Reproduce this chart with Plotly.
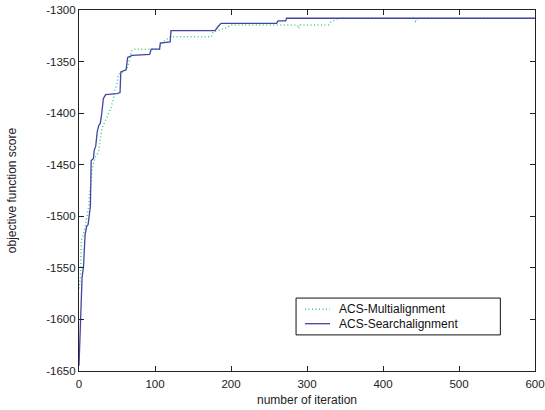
import plotly.graph_objects as go

# Best-so-far objective score per iteration for the two alignment methods
multi_iter = [0, 2, 3, 5, 8, 11, 13, 14, 16, 17, 21, 24, 26, 28, 30, 33, 36, 38, 42, 45,
              47, 50, 52, 58, 63, 66, 69, 72, 106, 108, 114, 120, 174, 177, 185, 195, 200,
              287, 289, 291, 328, 331, 336, 341, 441, 443, 446, 600]
multi_score = [-1570, -1558, -1523, -1520, -1510, -1500, -1490, -1478, -1467, -1455, -1443,
               -1440, -1437, -1425, -1415, -1410, -1405, -1400, -1395, -1387, -1378, -1372,
               -1362, -1360, -1357, -1350, -1340, -1338, -1338, -1332, -1329, -1326, -1326,
               -1321, -1319.5, -1317, -1314.5, -1314.5, -1318, -1314.5, -1314.5, -1312,
               -1310, -1308, -1308, -1311, -1308, -1308]

search_iter = [0, 2, 4, 6, 7, 8, 10, 12, 15, 16, 19, 20, 22, 24, 26, 28, 30, 32, 35, 50, 54,
               55, 62, 64, 70, 93, 95, 106, 107, 120, 121, 179, 183, 187, 260, 262, 272, 273,
               600]
search_score = [-1645, -1600, -1560, -1548, -1535, -1518, -1510, -1508, -1490, -1446, -1444,
                -1436, -1432, -1418, -1412, -1410, -1400, -1386, -1382, -1381, -1380, -1360,
                -1358, -1346, -1344, -1343, -1338, -1338, -1332, -1331, -1320, -1320, -1316,
                -1313, -1313, -1310.5, -1310.5, -1308, -1308]

series_names = ["ACS-Multialignment", "ACS-Searchalignment"]

x_ticks = [0, 100, 200, 300, 400, 500, 600]
y_ticks = [-1650, -1600, -1550, -1500, -1450, -1400, -1350, -1300]
y_tick_text = ["-1650", "-1600", "-1550", "-1500", "-1450", "-1400", "-1350", "-1300"]

MULTI_LINE = dict(color="#3fc98c", width=1.5, dash="1px,2.5px")
SEARCH_LINE = dict(color="#4444a6", width=1.3)

fig = go.Figure()
fig.add_trace(go.Scatter(x=multi_iter, y=multi_score, mode="lines",
                         name=series_names[0], line=MULTI_LINE))
fig.add_trace(go.Scatter(x=search_iter, y=search_score, mode="lines",
                         name=series_names[1], line=SEARCH_LINE))

font = dict(family="Liberation Sans, Arial, sans-serif", size=12, color="#222222")
tick_font = dict(family=font["family"], size=11.5, color="#222222")

axis_common = dict(
    showline=True, linecolor="#222222", linewidth=1.2, mirror="ticks",
    ticks="inside", ticklen=5, tickcolor="#222222", tickwidth=1,
    showgrid=False, zeroline=False, tickfont=tick_font, ticklabeloverflow="allow",
    automargin=False,
)

# Compact boxed legend drawn in paper coordinates
box = dict(x0=0.4760, x1=0.9240, y0=0.100, y1=0.202)
rows_y = [0.171, 0.131]
sample_x = (0.4956, 0.5505)
text_x = 0.568

shapes = [dict(type="rect", xref="paper", yref="paper", **box,
               line=dict(color="#111111", width=1), fillcolor="white", layer="above")]
annotations = []
for name, row_y, style in zip(series_names, rows_y, [MULTI_LINE, SEARCH_LINE]):
    shapes.append(dict(type="line", xref="paper", yref="paper",
                       x0=sample_x[0], x1=sample_x[1], y0=row_y, y1=row_y,
                       line=style, layer="above"))
    annotations.append(dict(xref="paper", yref="paper", x=text_x, y=row_y,
                            xanchor="left", yanchor="middle", showarrow=False,
                            text=name, borderpad=0,
                            font=dict(family=font["family"], size=12, color="#111111")))

fig.update_layout(
    width=545, height=410,
    margin=dict(l=79, r=10, t=10, b=39),
    paper_bgcolor="white", plot_bgcolor="white",
    font=font,
    showlegend=False,
    shapes=shapes,
    annotations=annotations,
    xaxis=dict(
        range=[0, 600], tickvals=x_ticks, ticklabelstandoff=2,
        title=dict(text="number of iteration", font=font, standoff=6),
        **axis_common,
    ),
    yaxis=dict(
        range=[-1650, -1300], tickvals=y_ticks, ticktext=y_tick_text,
        title=dict(text="objective function score", font=font, standoff=26),
        **axis_common,
    ),
)

fig.write_html("out.html")
